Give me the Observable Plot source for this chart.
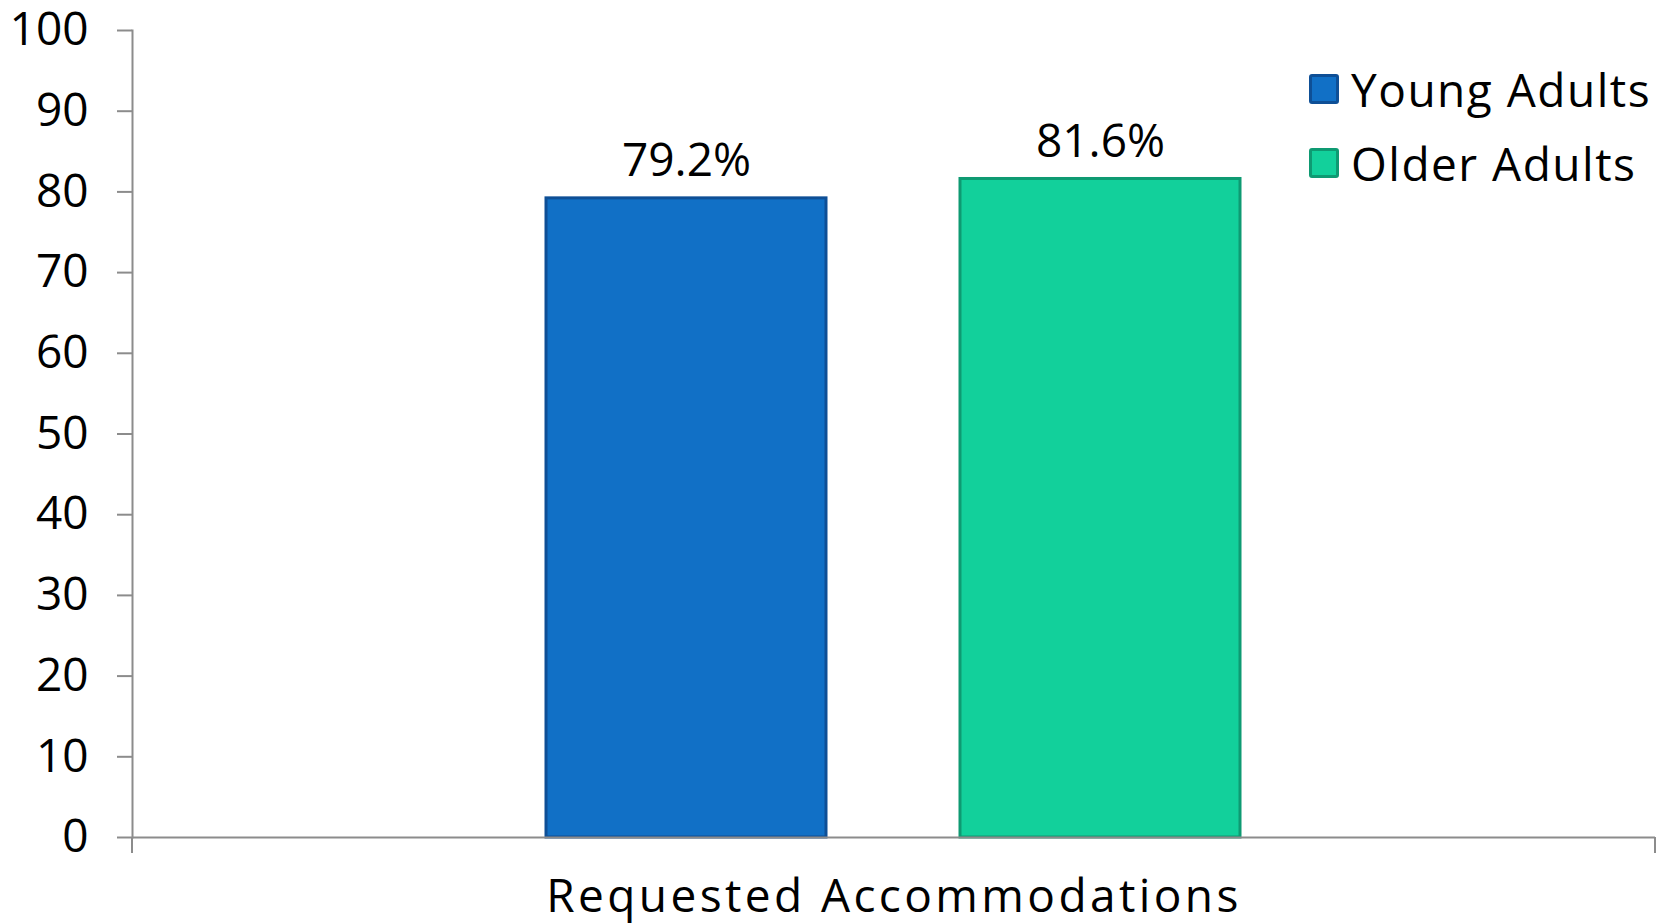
<!DOCTYPE html>
<html><head><meta charset="utf-8">
<script src="https://cdn.jsdelivr.net/npm/d3@7"></script>
<script src="https://cdn.jsdelivr.net/npm/@observablehq/plot@0.6"></script>
<style>
body{margin:0;background:#fff;}
#wrap{position:relative;width:1671px;height:923px;font-family:"Open Sans",sans-serif;}
.legend{position:absolute;left:1309px;top:52px;font-size:46px;color:#000;letter-spacing:1.5px;}
.legend .row{display:flex;align-items:center;height:74px;white-space:nowrap;}
.legend .sw{width:24px;height:24px;border:3px solid;border-radius:3px;margin-right:12px;flex:none;}
</style></head><body><div id="wrap"></div>
<script>
const category = ["Requested Accommodations"];
const groups = ["Young Adults", "Older Adults"];
const values = [79.2, 81.6];
const valueLabels = ["79.2%", "81.6%"];
const fills = ["#1170C6", "#12D09B"];
const strokes = ["#0E4F96", "#0E9A72"];
const yTicks = [0, 10, 20, 30, 40, 50, 60, 70, 80, 90, 100];

const data = groups.map((g, i) => ({category: category[0], group: g, value: values[i], label: valueLabels[i]}));
const axisColor = "#8c8c8c";

const chart = Plot.plot({
  width: 1671, height: 923,
  marginLeft: 132, marginRight: 16, marginTop: 30, marginBottom: 86,
  style: {fontFamily: "Open Sans, sans-serif", fontSize: "46px", color: "#000", background: "#fff", overflow: "visible"},
  fx: {domain: category, padding: 0, label: null},
  x: {domain: groups, paddingInner: 0.323, paddingOuter: 1.0, axis: null},
  y: {domain: [0, 100], label: null},
  marks: [
    Plot.axisY({ticks: yTicks, tickSize: 15, tickPadding: 29, stroke: axisColor, strokeWidth: 2, strokeOpacity: 1, label: null, fill: "#000"}),
    Plot.axisFx({anchor: "bottom", tickSize: 0, tickPadding: 42, label: null, fill: "#000"}),
    Plot.frame({anchor: "left", stroke: axisColor, strokeWidth: 2}),
    ...groups.map((g, i) => Plot.barY(data.filter(d => d.group === g), {
      fx: "category", x: "group", y: "value", fill: fills[i], stroke: strokes[i], strokeWidth: 3
    })),
    Plot.ruleY([0], {stroke: axisColor, strokeWidth: 2}),
    Plot.text(data, {fx: "category", x: "group", y: "value", text: "label", lineAnchor: "bottom", dy: -22, fill: "#000"})
  ]
});

// category boundary ticks on the x axis, derived from the scales
const fxs = chart.scale("fx");
const ys = chart.scale("y");
const y0 = ys.apply(0);
const svg = d3.select(chart);
[fxs.range[0], fxs.range[1]].forEach(xp => {
  svg.append("line").attr("x1", xp).attr("x2", xp).attr("y1", y0).attr("y2", y0 + 16)
    .attr("stroke", axisColor).attr("stroke-width", 2);
});
// wider tracking on the category label (reference font is wider)
svg.selectAll('g[aria-label="fx-axis tick label"] text').attr("letter-spacing", 3.4);

const wrap = document.getElementById("wrap");
wrap.appendChild(chart);
const legend = document.createElement("div");
legend.className = "legend";
groups.forEach((g, i) => {
  const row = document.createElement("div");
  row.className = "row";
  const sw = document.createElement("span");
  sw.className = "sw";
  sw.style.background = fills[i];
  sw.style.borderColor = strokes[i];
  const t = document.createElement("span");
  t.textContent = g;
  row.appendChild(sw); row.appendChild(t);
  legend.appendChild(row);
});
wrap.appendChild(legend);
</script>
</body></html>
